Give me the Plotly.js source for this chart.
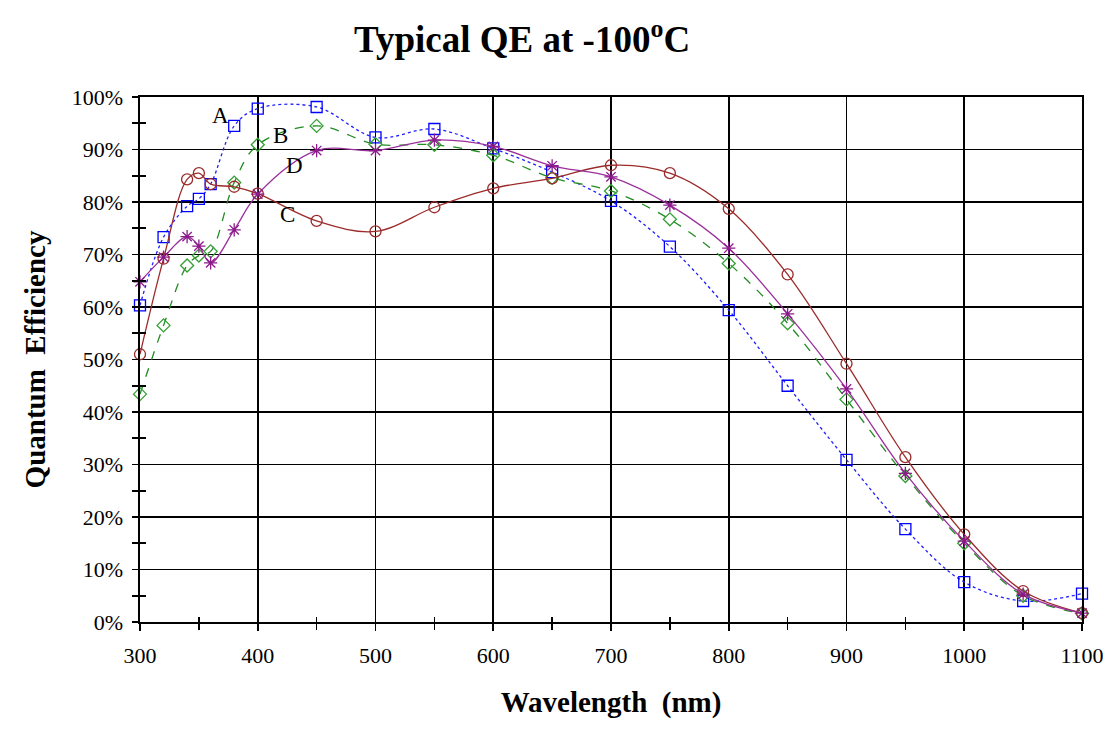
<!DOCTYPE html>
<html>
<head>
<meta charset="utf-8">
<script src="https://cdn.plot.ly/plotly-3.0.1.min.js"></script>
<style>html,body{margin:0;padding:0;background:#fff;}#chart{width:1118px;height:753px;}</style>
</head>
<body>
<div id="chart"></div>
<script>
const wavelengths = [300,320,340,350,360,380,400,450,500,550,600,650,700,750,800,850,900,950,1000,1050,1100];
const qeA = [60.3,73.3,79.2,80.6,83.4,94.5,97.8,98.1,92.3,93.9,90.2,85.7,80.2,71.5,59.4,45.0,30.9,17.7,7.6,4.0,5.4];
const qeB = [43.4,56.5,67.9,69.8,70.6,83.7,90.9,94.5,91.0,90.9,88.9,84.6,82.1,76.7,68.3,56.9,42.4,27.8,15.0,5.0,1.6];
const qeC = [51.0,69.2,84.3,85.5,83.4,82.9,81.6,76.4,74.4,79.0,82.6,84.5,87.0,85.5,78.7,66.2,49.2,31.4,16.7,5.9,1.7];
const qeD = [64.8,69.5,73.4,71.6,68.4,74.7,81.5,89.8,89.8,91.8,90.6,86.9,84.8,79.4,71.2,58.7,44.4,28.3,15.4,5.3,1.7];
const seriesNames = ['A','B','C','D'];
const labelX = [368,419,425,431];
const labelY = [96.4,92.6,77.7,86.9];
const yTickVals = [0,10,20,30,40,50,60,70,80,90,100];
const yTickText = ['0%','10%','20%','30%','40%','50%','60%','70%','80%','90%','100%'];
const xTickVals = [300,400,500,600,700,800,900,1000,1100];

const serif = 'Liberation Serif';
function tr(name, y, color, mcolor, dash, symbol, size) {
  return {
    x: wavelengths, y: y, name: name, type: 'scatter', mode: 'lines+markers',
    line: {color: color, width: 1.3, dash: dash, shape: 'spline', smoothing: 1.0},
    marker: {symbol: symbol, size: size, color: mcolor, line: {color: mcolor, width: 1.3}},
    cliponaxis: false
  };
}
const data = [
  tr('A', qeA, '#2020FF', '#0000FF', 'dot', 'square-open', 11),
  tr('B', qeB, '#228B22', '#33A033', 'dash', 'diamond-open', 10),
  tr('C', qeC, '#9B2B2B', '#9B2B2B', 'solid', 'circle-open', 11),
  tr('D', qeD, '#9B309B', '#8B1A8B', 'solid', 'asterisk-open', 11),
  {x: [wavelengths[0]], y: [qeA[0]], xaxis:'x2', yaxis:'y2', mode:'markers', type:'scatter',
   marker:{opacity:0}, hoverinfo:'skip', showlegend:false}
];
const annotations = seriesNames.map((n,i)=>({
  x: labelX[i], y: labelY[i], xref:'x', yref:'y', text: n, showarrow:false,
  font:{family: serif, size: 23, color:'#000'}
}));
const layout = {
  width: 1118, height: 753,
  margin: {l:140, r:36, t:97, b:131},
  paper_bgcolor: '#fff', plot_bgcolor: '#fff',
  showlegend: false,
  title: {text: '<b>Typical QE at -100<sup>o</sup>C</b>', x: 0.467, xanchor:'center', y: 0.948, yanchor:'middle',
          font: {family: serif, size: 37, color:'#000'}},
  xaxis: {
    range: [300,1100], tickvals: xTickVals, ticktext: xTickVals.map(String),
    showgrid: true, gridcolor:'#000', gridwidth: 1.6,
    showline: true, linecolor:'#000', linewidth: 1.6, mirror: true,
    ticks: 'outside', ticklen: 7, tickcolor:'#000', tickwidth: 1.6,
    ticklabelstandoff: 6,
    minor: {dtick: 50, tick0: 300, ticks:'outside', ticklen: 6, tickcolor:'#000', tickwidth: 1.6, showgrid:false},
    zeroline: false,
    tickfont: {family: serif, size: 22, color:'#000'},
    title: {text: '<b>Wavelength  (nm)</b>', font: {family: serif, size: 29, color:'#000'}, standoff: 24}
  },
  yaxis: {
    range: [0,100], tickvals: yTickVals, ticktext: yTickText,
    showgrid: true, gridcolor:'#000', gridwidth: 1.6,
    showline: true, linecolor:'#000', linewidth: 1.6, mirror: true,
    ticks: 'outside', ticklen: 6, tickcolor:'#000', tickwidth: 1.6,
    ticklabelstandoff: 5,
    minor: {dtick: 5, tick0: 0, ticks:'outside', ticklen: 6, tickcolor:'#000', tickwidth: 1.6, showgrid:false},
    zeroline: false,
    tickfont: {family: serif, size: 22, color:'#000'},
    title: {text: '<b>Quantum  Efficiency</b>', font: {family: serif, size: 29, color:'#000'}, standoff: 17}
  },
  xaxis2: {
    overlaying: 'x', matches: 'x', range: [300,1100], side: 'bottom',
    showgrid: false, showline: false, zeroline: false, showticklabels: false,
    ticks: '', dtick: 100, tick0: 300,
    minor: {dtick: 50, tick0: 300, ticks: 'inside', ticklen: 5, tickcolor:'#000', tickwidth: 1.6, showgrid:false}
  },
  yaxis2: {
    overlaying: 'y', matches: 'y', range: [0,100], side: 'left',
    showgrid: false, showline: false, zeroline: false, showticklabels: false,
    ticks: '', dtick: 10, tick0: 0,
    minor: {dtick: 5, tick0: 0, ticks: 'inside', ticklen: 6, tickcolor:'#000', tickwidth: 1.6, showgrid:false}
  },
  annotations: annotations
};
Plotly.newPlot('chart', data, layout, {displayModeBar:false, staticPlot:true});
</script>
</body>
</html>
